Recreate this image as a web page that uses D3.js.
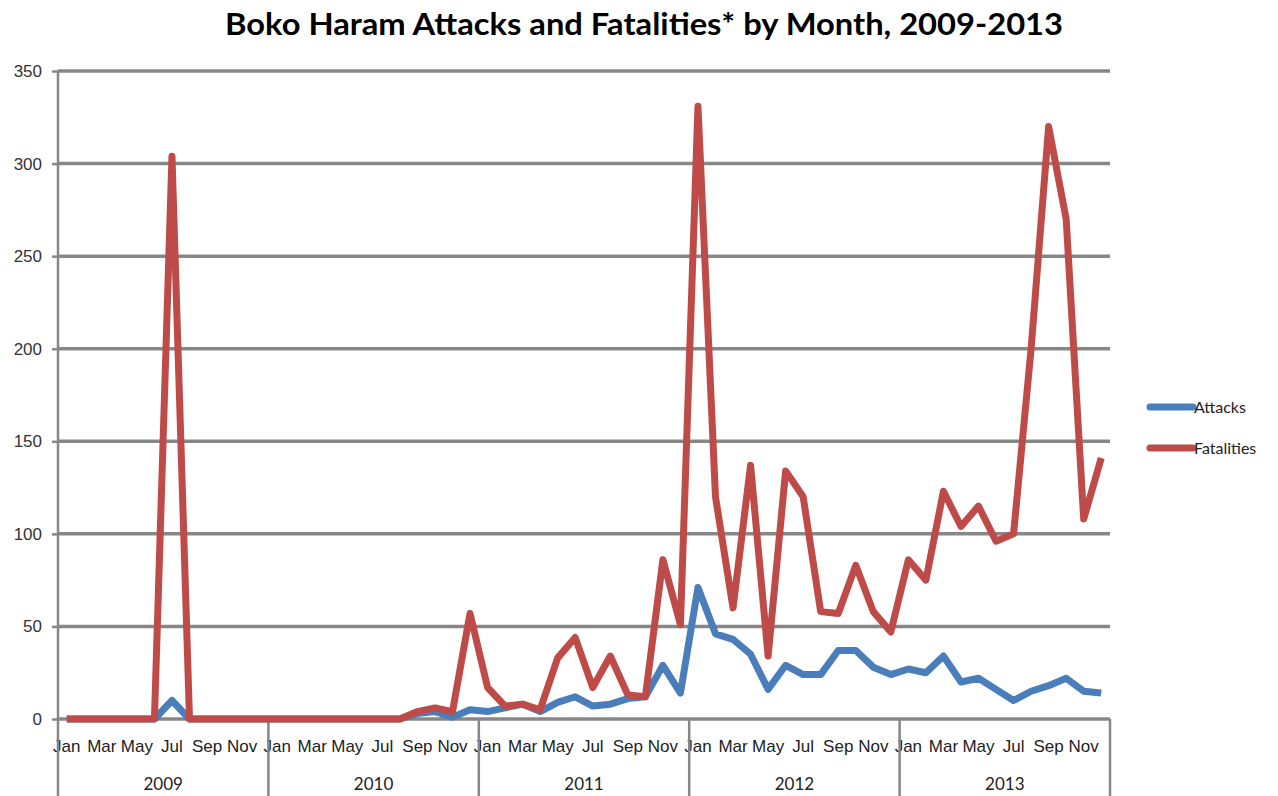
<!DOCTYPE html>
<html>
<head>
<meta charset="utf-8">
<script src="https://cdn.jsdelivr.net/npm/d3@7"></script>
<style>
  body { margin: 0; background: #fff; }
  svg { display: block; font-family: Lato, "Open Sans", sans-serif; }
</style>
</head>
<body>
<svg id="chart"></svg>
<script>
// month / year categories
const years = ['2009', '2010', '2011', '2012', '2013'];
const months = ['Jan', 'Feb', 'Mar', 'Apr', 'May', 'Jun', 'Jul', 'Aug', 'Sep', 'Oct', 'Nov', 'Dec'];
const yTicks = [0, 50, 100, 150, 200, 250, 300, 350];

// values, 2009 Jan .. 2013 Dec
const attacks = [
  0, 0, 0, 0, 0, 0, 10, 0, 0, 0, 0, 0,
  0, 0, 0, 0, 0, 0, 0, 0, 3, 4, 1, 5,
  4, 6, 8, 4, 9, 12, 7, 8, 11, 12, 29, 14,
  71, 46, 43, 35, 16, 29, 24, 24, 37, 37, 28, 24,
  27, 25, 34, 20, 22, 16, 10, 15, 18, 22, 15, 14
];
const fatalities = [
  0, 0, 0, 0, 0, 0, 304, 0, 0, 0, 0, 0,
  0, 0, 0, 0, 0, 0, 0, 0, 4, 6, 4, 57,
  17, 7, 8, 5, 33, 44, 17, 34, 13, 12, 86, 51,
  331, 120, 60, 137, 34, 134, 120, 58, 57, 83, 58, 47,
  86, 75, 123, 104, 115, 96, 100, 200, 320, 270, 108, 141
];

const W = 1278, H = 796;
const plotL = 58, plotR = 1110, plotT = 71, plotB = 719;

const svg = d3.select('#chart').attr('width', W).attr('height', H);

// one band per month
const keys = [];
years.forEach(y => months.forEach(m => keys.push(y + '-' + m)));

const x = d3.scaleBand().domain(keys).range([plotL, plotR]).padding(0);
const xYear = d3.scaleBand().domain(years).range([plotL, plotR]).padding(0);
const y = d3.scaleLinear().domain([0, 350]).range([plotB, plotT]);
const cx = k => x(k) + x.bandwidth() / 2;

// title
svg.append('text')
  .attr('x', 644).attr('y', 35)
  .attr('text-anchor', 'middle')
  .attr('textLength', 838).attr('lengthAdjust', 'spacingAndGlyphs')
  .style('font-size', '31px').style('font-weight', 700)
  .text('Boko Haram Attacks and Fatalities* by Month, 2009-2013');

// gridlines + y labels
const yAxis = d3.axisLeft(y).tickValues(yTicks).tickSize(6).tickPadding(10);
const gy = svg.append('g').attr('transform', `translate(${plotL},0)`).call(yAxis);
gy.select('.domain').remove();
gy.selectAll('line').attr('stroke', '#878787').attr('stroke-width', 2.5);
gy.selectAll('text').style('font-size', '17px').attr('fill', '#333');

svg.append('g').selectAll('line')
  .data(yTicks)
  .join('line')
  .attr('x1', plotL).attr('x2', plotR)
  .attr('y1', d => y(d)).attr('y2', d => y(d))
  .attr('stroke', '#878787').attr('stroke-width', 3.5);

// y axis line
svg.append('line')
  .attr('x1', plotL).attr('x2', plotL).attr('y1', plotT).attr('y2', plotB)
  .attr('stroke', '#878787').attr('stroke-width', 2.5);

// month labels (every other month)
const xAxis = d3.axisBottom(x)
  .tickValues(keys.filter((k, i) => i % 2 === 0))
  .tickSize(0).tickPadding(21)
  .tickFormat(k => k.split('-')[1]);
const gx = svg.append('g').attr('transform', `translate(0,${plotB})`).call(xAxis);
gx.select('.domain').remove();
gx.selectAll('text').style('font-size', '17px').attr('fill', '#222');

// year separators and labels
const seps = years.map(d => xYear(d)).concat([plotR]);
svg.append('g').selectAll('line')
  .data(seps)
  .join('line')
  .attr('x1', d => d).attr('x2', d => d)
  .attr('y1', plotB).attr('y2', H)
  .attr('stroke', '#878787').attr('stroke-width', 2.5);

svg.append('g').selectAll('text')
  .data(years)
  .join('text')
  .attr('x', d => xYear(d) + xYear.bandwidth() / 2)
  .attr('y', 790)
  .attr('text-anchor', 'middle')
  .style('font-size', '17px').attr('fill', '#222')
  .text(d => d);

// lines
const line = d3.line().x((d, i) => cx(keys[i])).y(d => y(d));
const series = [
  { name: 'Attacks', values: attacks, color: '#4a7ebb' },
  { name: 'Fatalities', values: fatalities, color: '#be4b48' }
];

svg.append('g').selectAll('path')
  .data(series)
  .join('path')
  .attr('d', d => line(d.values))
  .attr('fill', 'none')
  .attr('stroke', d => d.color)
  .attr('stroke-width', 7)
  .attr('stroke-linejoin', 'round');

// legend
const lg = svg.append('g').selectAll('g')
  .data(series)
  .join('g')
  .attr('transform', (d, i) => `translate(1150,${407 + i * 41})`);
lg.append('line')
  .attr('x1', 0).attr('x2', 43)
  .attr('stroke', d => d.color).attr('stroke-width', 7).attr('stroke-linecap', 'round');
lg.append('text')
  .attr('x', 44).attr('dy', '0.35em')
  .style('font-size', '16px').attr('fill', '#222')
  .text(d => d.name);
</script>
</body>
</html>
